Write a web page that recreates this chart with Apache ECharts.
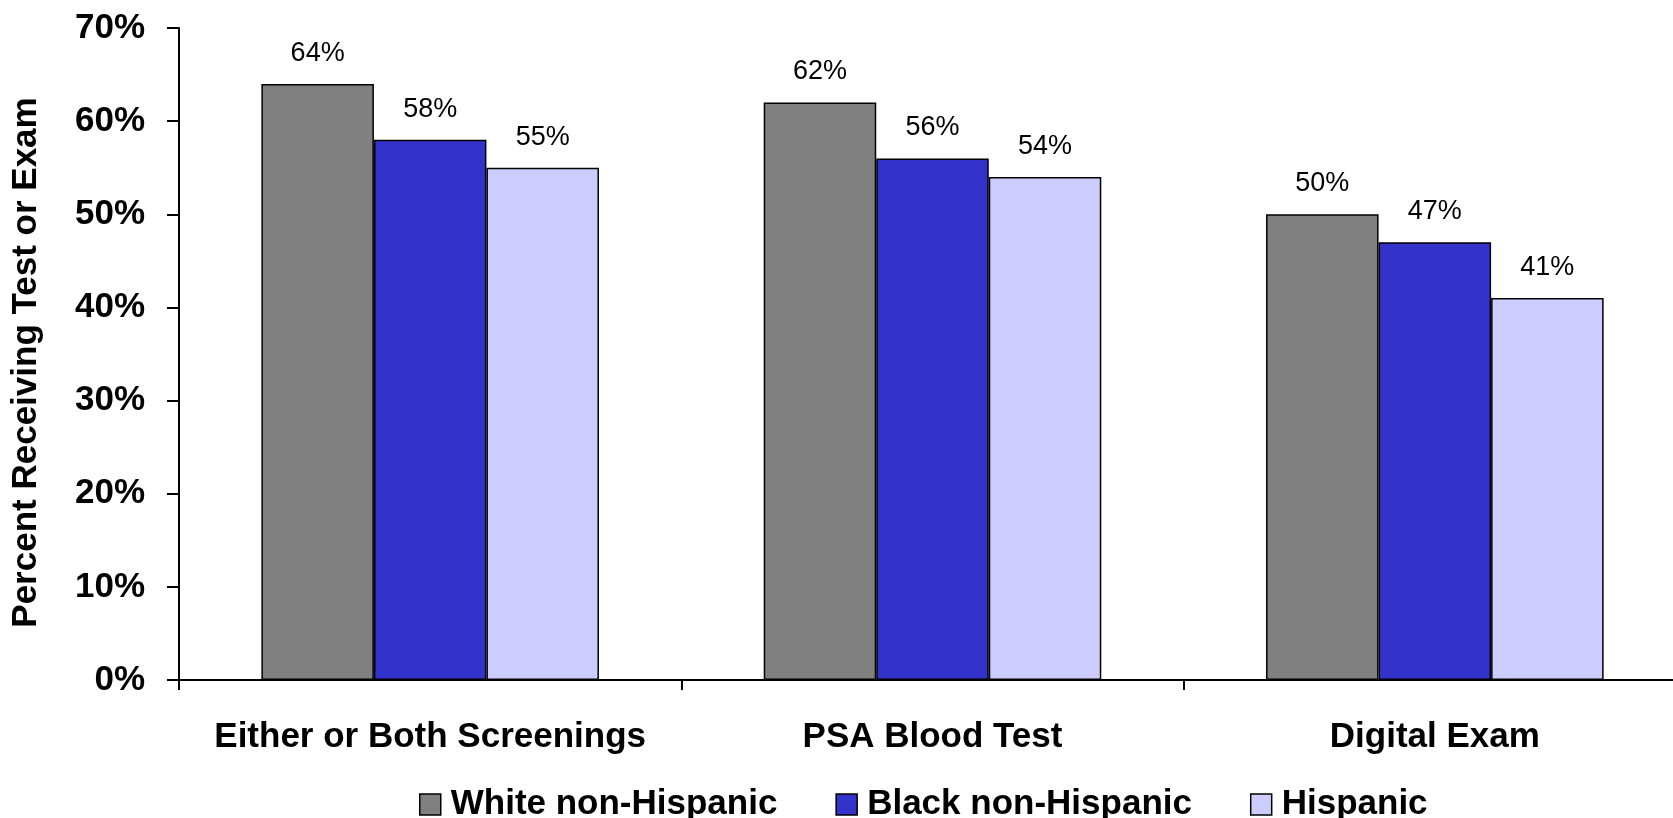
<!DOCTYPE html>
<html>
<head>
<meta charset="utf-8">
<script src="https://cdn.jsdelivr.net/npm/echarts@6/dist/echarts.min.js"></script>
<style>html,body{margin:0;padding:0;background:#fff}#c{width:1673px;height:818px}</style>
</head>
<body>
<div id="c"></div>
<script>
const categories = ['Either or Both Screenings', 'PSA Blood Test', 'Digital Exam'];
const seriesNames = ['White non-Hispanic', 'Black non-Hispanic', 'Hispanic'];
const whiteValues = [64, 62, 50];
const blackValues = [58, 56, 47];
const hispanicValues = [55, 54, 41];
const yTicks = [0, 10, 20, 30, 40, 50, 60, 70];
const colors = ['#808080', '#3333CC', '#CCCCFF'];

const chart = echarts.init(document.getElementById('c'), null, {renderer: 'canvas'});
const font = 'Liberation Sans, Arial, sans-serif';
function mk(name, data, color) {
  return {
    name: name, type: 'bar', data: data, barGap: '0%', barCategoryGap: '32.8%',
    itemStyle: {color: color, borderColor: '#000', borderWidth: 1.5},
    label: {show: true, position: 'top', distance: 17, formatter: '{c}%',
      fontFamily: font, fontSize: 27, color: '#000'}
  };
}
chart.setOption({
  animation: false,
  backgroundColor: '#fff',
  grid: {left: 179, top: 28, bottom: 138, width: 1507, containLabel: false, outerBoundsMode: 'none'},
  xAxis: {
    type: 'category', data: categories,
    axisLine: {lineStyle: {color: '#000', width: 2}},
    axisTick: {show: true, interval: 0, length: 10, lineStyle: {color: '#000', width: 2}},
    axisLabel: {interval: 0, margin: 40, fontFamily: font, fontWeight: 'bold', fontSize: 35, color: '#000'}
  },
  yAxis: {
    type: 'value', min: yTicks[0], max: yTicks[yTicks.length - 1], interval: 10,
    name: 'Percent Receiving Test or Exam', nameLocation: 'middle', nameGap: 135,
    nameTextStyle: {fontFamily: font, fontWeight: 'bold', fontSize: 35, color: '#000', padding: [0, 17, 0, 0]},
    splitLine: {show: false},
    axisLine: {show: true, lineStyle: {color: '#000', width: 2}},
    axisTick: {show: true, length: 12, lineStyle: {color: '#000', width: 2}},
    axisLabel: {margin: 34, formatter: '{value}%', fontFamily: font, fontWeight: 'bold', fontSize: 35, color: '#000'}
  },
  legend: {
    left: 414, top: 782, itemWidth: 21, itemHeight: 21, itemGap: 58, icon: 'rect',
    itemStyle: {borderColor: '#000', borderWidth: 1.5},
    textStyle: {fontFamily: font, fontWeight: 'bold', fontSize: 35, color: '#000', padding: [0, 0, 0, 5]},
    data: seriesNames
  },
  series: [
    mk(seriesNames[0], whiteValues, colors[0]),
    mk(seriesNames[1], blackValues, colors[1]),
    mk(seriesNames[2], hispanicValues, colors[2])
  ]
});
</script>
</body>
</html>
